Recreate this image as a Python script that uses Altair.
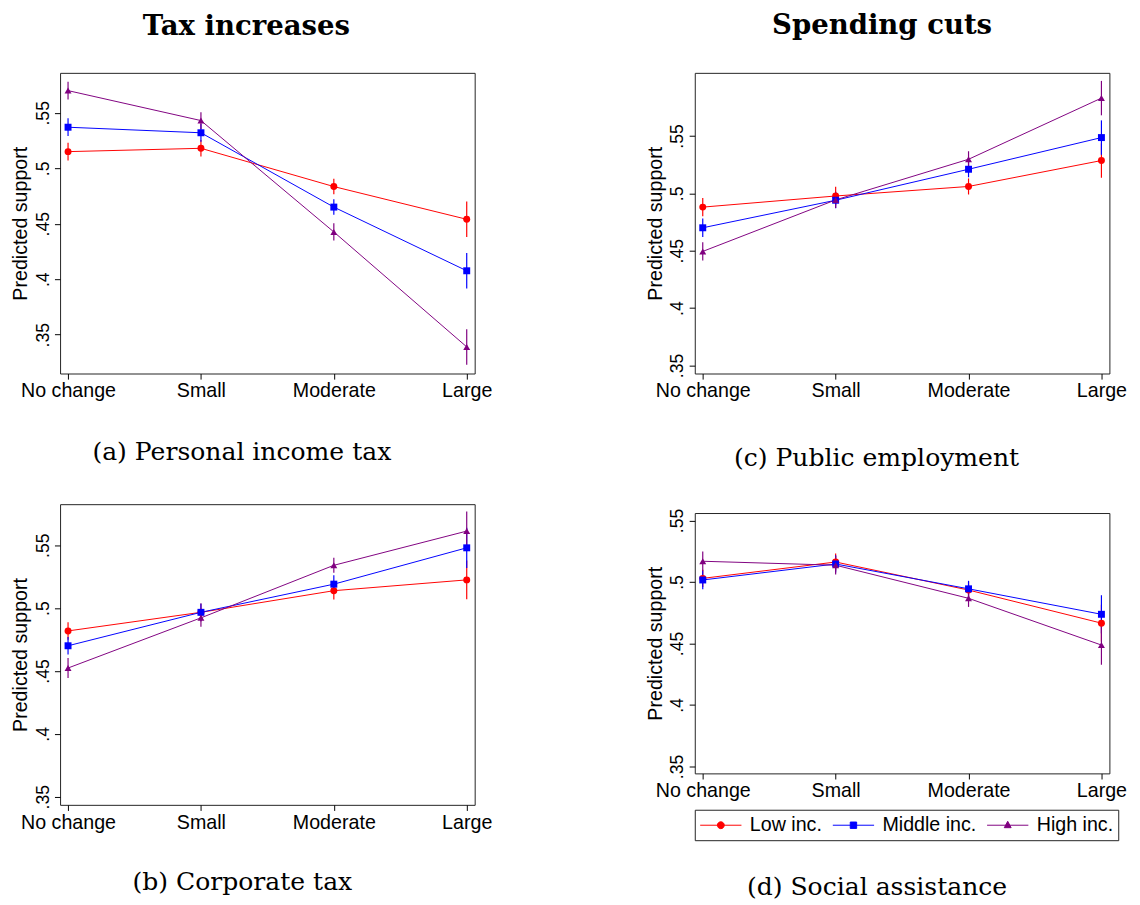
import altair as alt
import pandas as pd

categories = ["No change", "Small", "Moderate", "Large"]
groups = ["Low inc.", "Middle inc.", "High inc."]
colors = ["#ff0000", "#0000ff", "#800080"]
tick_values = [0.35, 0.40, 0.45, 0.50, 0.55]

# (a) Personal income tax
a_low = [0.515, 0.518, 0.4835, 0.454]
a_low_ci = [0.008, 0.0075, 0.007, 0.016]
a_mid = [0.537, 0.532, 0.465, 0.4076]
a_mid_ci = [0.008, 0.008, 0.007, 0.016]
a_high = [0.570, 0.543, 0.4426, 0.339]
a_high_ci = [0.008, 0.0075, 0.0078, 0.016]

# (b) Corporate tax
b_low = [0.4818, 0.4966, 0.5138, 0.5224]
b_low_ci = [0.007, 0.007, 0.007, 0.0155]
b_mid = [0.470, 0.4966, 0.519, 0.5479]
b_mid_ci = [0.007, 0.007, 0.007, 0.016]
b_high = [0.4523, 0.4922, 0.534, 0.5612]
b_high_ci = [0.008, 0.007, 0.006, 0.0155]

# (c) Public employment
c_low = [0.488, 0.4977, 0.506, 0.5286]
c_low_ci = [0.008, 0.008, 0.007, 0.015]
c_mid = [0.470, 0.494, 0.521, 0.5486]
c_mid_ci = [0.008, 0.007, 0.007, 0.015]
c_high = [0.4494, 0.4943, 0.5297, 0.583]
c_high_ci = [0.008, 0.007, 0.007, 0.015]

# (d) Social assistance
d_low = [0.5029, 0.5162, 0.4934, 0.4665]
d_low_ci = [0.007, 0.007, 0.007, 0.015]
d_mid = [0.5016, 0.5146, 0.4944, 0.4737]
d_mid_ci = [0.0075, 0.007, 0.0065, 0.0155]
d_high = [0.5168, 0.5136, 0.4867, 0.4487]
d_high_ci = [0.008, 0.0075, 0.007, 0.016]

legend_paths = [
    "M-1,0L3.2,0M0.75,0A0.35,0.35,0,1,1,1.45,0A0.35,0.35,0,1,1,0.75,0Z",
    "M-1,0L3.2,0M0.775,-0.325L1.425,-0.325L1.425,0.325L0.775,0.325Z",
    "M-1,0L3.2,0M1.1,-0.4L1.45,0.25L0.75,0.25Z",
]


def make_df(series, cis):
    rows = []
    for g, est, ci in zip(groups, series, cis):
        for i, (cat, e, h) in enumerate(zip(categories, est, ci)):
            rows.append({"category": cat, "idx": i, "group": g, "est": e,
                         "lo": e - h, "hi": e + h})
    return pd.DataFrame(rows)


def panel(df, ydom, height, caption, cap_dx, cap_off, lab_pad=6.5, legend=False):
    xaxis = alt.Axis(title=None, labelAngle=0, labelFontSize=20, labelPadding=2,
                     tickSize=5.7, labelOverlap=False)
    x = alt.X("category:N", sort=categories,
              scale=alt.Scale(type="point", padding=0.06), axis=xaxis)
    yaxis = alt.Axis(title="Predicted support", titleFontSize=20, titlePadding=4,
                     values=tick_values,
                     labelExpr="replace(format(datum.value, '.2~f'), '0.', '.')",
                     labelAngle=270, labelAlign="center", labelBaseline="alphabetic",
                     labelPadding=lab_pad, labelFontSize=18, tickSize=5.7,
                     labelFlush=False, labelOverlap=False)
    yscale = alt.Scale(domain=ydom, nice=False, zero=False)
    color = alt.Color("group:N", scale=alt.Scale(domain=groups, range=colors), legend=None)
    base = alt.Chart(df)
    rules = base.mark_rule(strokeWidth=1.2).encode(
        x=x, y=alt.Y("lo:Q", scale=yscale, axis=yaxis), y2="hi:Q", color=color)
    lines = base.mark_line(strokeWidth=1).encode(
        x=x, y=alt.Y("est:Q", scale=yscale, axis=yaxis), color=color, order="idx:Q")
    points = base.mark_point(filled=True, size=50, opacity=1).encode(
        x=x, y=alt.Y("est:Q", scale=yscale, axis=yaxis), color=color,
        shape=alt.Shape("group:N", scale=alt.Scale(domain=groups,
                        range=["circle", "square", "triangle-up"]), legend=None))
    layers = [rules, lines, points]
    if legend:
        leg = alt.Legend(orient="none", legendX=0, legendY=302, direction="horizontal",
                         columns=3, title=None, labelFont="Liberation Sans",
                         labelFontSize=20, labelColor="black", symbolSize=400,
                         symbolStrokeWidth=1, labelOffset=30, columnPadding=8,
                         padding=5, strokeColor="#222", fillColor="white")
        lg = base.transform_filter("false").mark_point(filled=True, opacity=1, strokeWidth=1).encode(
            x=x, y=alt.Y("est:Q", scale=yscale, axis=yaxis),
            fill=alt.Fill("group:N", scale=alt.Scale(domain=groups, range=colors), legend=leg),
            stroke=alt.Stroke("group:N", scale=alt.Scale(domain=groups, range=colors), legend=leg),
            shape=alt.Shape("group:N", scale=alt.Scale(domain=groups, range=legend_paths), legend=leg),
        )
        layers.append(lg)
    cap = alt.TitleParams(text=caption, orient="bottom", anchor="middle", frame="group",
                          dx=cap_dx, offset=cap_off, font="DejaVu Serif", fontSize=25.5,
                          fontWeight="normal", color="black")
    ch = alt.layer(*layers).properties(width=422, height=height, title=cap)
    if legend:
        ch = ch.resolve_scale(shape="independent", fill="independent", stroke="independent")
    return ch


df_a = make_df([a_low, a_mid, a_high], [a_low_ci, a_mid_ci, a_high_ci])
df_b = make_df([b_low, b_mid, b_high], [b_low_ci, b_mid_ci, b_high_ci])
df_c = make_df([c_low, c_mid, c_high], [c_low_ci, c_mid_ci, c_high_ci])
df_d = make_df([d_low, d_mid, d_high], [d_low_ci, d_mid_ci, d_high_ci])

pa = panel(df_a, [0.315, 0.586], 306, "(a) Personal income tax", -26, 40)
pc = panel(df_c, [0.343, 0.605], 306, "(c) Public employment", -26, 46.6)
pb = panel(df_b, [0.3435, 0.5826], 306, "(b) Corporate tax", -25.5, 38.6)
pd_ = panel(df_d, [0.3444, 0.556], 265, "(d) Social assistance", -25.5, 35,
            lab_pad=6.5, legend=True)

title_left = alt.TitleParams(text="Tax increases", font="DejaVu Serif", fontSize=28,
                             fontWeight="bold", anchor="middle", frame="bounds", dx=-5,
                             offset=32, color="black")
title_right = alt.TitleParams(text="Spending cuts", font="DejaVu Serif", fontSize=28,
                              fontWeight="bold", anchor="middle", frame="bounds", dx=-4,
                              offset=33, color="black")

indep = dict(color="independent", shape="independent", fill="independent", stroke="independent")
left = alt.vconcat(pa, pb, spacing=133, bounds="flush", title=title_left).resolve_scale(**indep)
right = alt.vconcat(pc, pd_, spacing=142, bounds="flush", title=title_right).resolve_scale(**indep)

chart = alt.hconcat(left, right, spacing=155, bounds="full").resolve_scale(**indep).properties(
    padding={"left": 2, "top": -4, "right": 5, "bottom": 0}, background="white"
).configure_view(
    stroke="#222", strokeWidth=1
).configure_axis(
    labelFont="Liberation Sans", titleFont="Liberation Sans", labelColor="black",
    titleColor="black", tickColor="black", domain=False, grid=False,
    titleFontWeight="normal"
)

chart.save("out.html", embed_options={"renderer": "svg", "actions": False})
